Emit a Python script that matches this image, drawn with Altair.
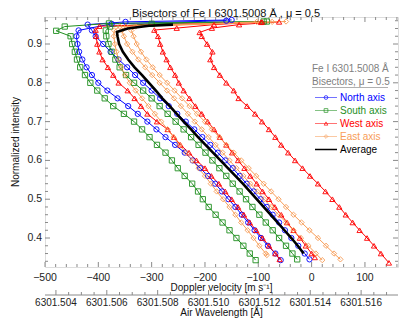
import altair as alt
import pandas as pd

FONT = "Liberation Sans"
GRAY = "#8a8a8a"
TXT = "#222222"

SERIES = ["North axis", "South axis", "West axis", "East axis"]
COLORS = ["#0000ff", "#1f8f1f", "#ff0000", "#f89d57"]
SHAPES = ["circle", "square", "triangle-up", "diamond"]

TITLE = "Bisectors of Fe I 6301.5008 Å , μ = 0.5"
X_TITLE = "Doppler velocity [m s⁻¹]"
X2_TITLE = "Air Wavelength [Å]"
Y_TITLE = "Normalized intensity"

# intensity levels at which the bisector bodies were read
LEVELS = [0.36, 0.38, 0.40, 0.42, 0.44, 0.46, 0.48, 0.50, 0.52, 0.54, 0.56, 0.58,
          0.60, 0.62, 0.64, 0.66, 0.68, 0.70, 0.72, 0.74, 0.76, 0.78, 0.80, 0.82,
          0.84, 0.86, 0.88, 0.90, 0.92]

# ---- North axis ----
n1_bottom = (0.343, -58)
n1_body = [-68, -82, -95, -107, -119, -131, -143, -156, -168, -181, -194, -209, -223, -238,
           -256, -274, -291, -308, -326, -344, -364, -383, -400, -412, -422, -430, -436, -439, -441]
n1_top_i = [0.935, 0.952, 0.960]
n1_top_v = [-437, -375, -160]

n2_bottom = (0.345, -4)
n2_body = [-13, -25, -38, -50, -61, -73, -84, -96, -109, -122, -135, -148, -162, -176,
           -190, -205, -220, -236, -252, -268, -284, -300, -316, -331, -346, -362, -377, -391, -405]
n2_top_i = [0.935, 0.950, 0.957, 0.962]
n2_top_v = [-412, -420, -349, -150]

# ---- South axis ----
s1_bottom = (0.343, -105)
s1_body = [-116, -128, -141, -154, -167, -180, -193, -204, -213, -224, -238, -251, -262, -274,
           -290, -304, -318, -333, -352, -372, -388, -402, -415, -425, -434, -440, -444, -449, -452]
s1_top_i = [0.934, 0.945, 0.953, 0.958]
s1_top_v = [-479, -463, -380, -84]

s2_bottom = (0.345, -27)
s2_body = [-36, -48, -61, -73, -86, -98, -111, -123, -135, -148, -160, -173, -186, -199,
           -212, -226, -240, -255, -270, -285, -300, -316, -333, -348, -360, -368, -375, -381, -385]
s2_top_i = [0.935, 0.945, 0.952, 0.958]
s2_top_v = [-386, -378, -300, -90]

# ---- West axis ----
w1_bottom = (0.345, -60)
w1_body = [-68, -80, -92, -104, -116, -127, -138, -150, -162, -174, -188, -200, -216, -230,
           -246, -258, -270, -290, -308, -320, -332, -345, -362, -372, -382, -392, -398, -402, -404]
w1_top_i = [0.936, 0.946, 0.956]
w1_top_v = [-405, -398, -95]

w2_bottom = (0.350, 6)
w2_body = [0, -11, -22, -34, -46, -57, -69, -80, -92, -103, -115, -126, -138, -149,
           -160, -172, -183, -195, -206, -218, -229, -240, -249, -256, -265, -272, -279, -284, -288]
w2_top_i = [0.936, 0.941, 0.950, 0.957]
w2_top_v = [-295, -253, -183, -93]

w3_bottom = (0.336, 145)
w3_body = [130, 117, 104, 90, 77, 64, 52, 39, 26, 12, -3, -17, -31, -44,
           -57, -68, -80, -93, -106, -121, -137, -146, -160, -172, -183, -190, -186, -196, -206]
w3_top_i = [0.930, 0.941, 0.950, 0.957]
w3_top_v = [-210, -187, -136, -61]

# ---- East axis ----
e1_bottom = (0.356, -84)
e1_body = [-86, -98, -109, -120, -132, -143, -154, -166, -178, -189, -200, -212, -224, -236,
           -248, -259, -270, -282, -294, -306, -318, -330, -341, -350, -357, -362, -366, -369, -371]
e1_top_i = [0.935, 0.945, 0.957]
e1_top_v = [-370, -360, -74]

e2_bottom = (0.343, 20)
e2_body = [8, -6, -20, -34, -48, -62, -76, -89, -102, -115, -128, -141, -154, -167,
           -180, -193, -206, -219, -232, -245, -258, -271, -285, -299, -312, -325, -336, -346, -352]
e2_top_i = [0.935, 0.945, 0.957]
e2_top_v = [-356, -348, -103]

e3_bottom = (0.345, 54)
e3_body = [42, 27, 12, -4, -19, -34, -48, -62, -76, -90, -104, -118, -132, -146,
           -160, -173, -187, -200, -215, -229, -243, -257, -271, -285, -298, -310, -320, -328, -334]
e3_top_i = [0.935, 0.945, 0.958]
e3_top_v = [-338, -330, -48]

# ---- Average ----
avg_body = [-15, -26, -38, -51, -64, -77, -90, -103, -116, -129, -143, -157, -171, -185,
            -199, -213, -226, -240, -253, -266, -280, -292, -305, -318, -332, -344, -354, -361, -364]
avg_top_i = [0.931, 0.940, 0.947, 0.950]
avg_top_v = [-365, -345, -305, -260]

# ---- axes ----
V_TICKS = [-500, -400, -300, -200, -100, 0, 100]
V_LABELS = ["−500", "−400", "−300", "−200", "−100", "0", "100"]
I_TICKS = [0.4, 0.5, 0.6, 0.7, 0.8, 0.9]
I_LABELS = ["0.4", "0.5", "0.6", "0.7", "0.8", "0.9"]
WL_TICKS = [6301.504, 6301.506, 6301.508, 6301.510, 6301.512, 6301.514, 6301.516]
WL_LABELS = ["6301.504", "6301.506", "6301.508", "6301.510", "6301.512", "6301.514", "6301.516"]

V_DOMAIN = [-500, 162]
I_DOMAIN = [0.3253, 0.9696]
WL_DOMAIN = [6301.50357, 6301.51745]   # wavelength at the left / right edge of the plot

W, H = 353, 250
OFF = 28   # offset of the wavelength axis below the plot

# ---------------- build tables ----------------
lines = [
    ("N1", "North axis", n1_bottom, n1_body, n1_top_i, n1_top_v),
    ("N2", "North axis", n2_bottom, n2_body, n2_top_i, n2_top_v),
    ("S1", "South axis", s1_bottom, s1_body, s1_top_i, s1_top_v),
    ("S2", "South axis", s2_bottom, s2_body, s2_top_i, s2_top_v),
    ("W1", "West axis", w1_bottom, w1_body, w1_top_i, w1_top_v),
    ("W2", "West axis", w2_bottom, w2_body, w2_top_i, w2_top_v),
    ("W3", "West axis", w3_bottom, w3_body, w3_top_i, w3_top_v),
    ("E1", "East axis", e1_bottom, e1_body, e1_top_i, e1_top_v),
    ("E2", "East axis", e2_bottom, e2_body, e2_top_i, e2_top_v),
    ("E3", "East axis", e3_bottom, e3_body, e3_top_i, e3_top_v),
]
rows = []
for name, ser, bottom, body, ti, tv in lines:
    pts = [bottom] + list(zip(LEVELS, body)) + list(zip(ti, tv))
    for k, (i, v) in enumerate(pts):
        rows.append({"line": name, "series": ser, "I": i, "v": v, "k": k})
df = pd.DataFrame(rows)

avg_pts = list(zip(LEVELS, avg_body)) + list(zip(avg_top_i, avg_top_v))
df_avg = pd.DataFrame([{"I": i, "v": v, "k": k} for k, (i, v) in enumerate(avg_pts)])

XS = alt.Scale(domain=V_DOMAIN, nice=False, zero=False)
YS = alt.Scale(domain=I_DOMAIN, nice=False, zero=False)
CS = alt.Scale(domain=SERIES, range=COLORS)
SS = alt.Scale(domain=SERIES, range=SHAPES)


def X(field):
    return alt.X(field, scale=XS, axis=None)


def Y(field):
    return alt.Y(field, scale=YS, axis=None)


lines_layer = alt.Chart(df).mark_line(strokeWidth=1).encode(
    x=X("v:Q"), y=Y("I:Q"),
    color=alt.Color("series:N", scale=CS, legend=None),
    detail="line:N", order="k:Q")
points_layer = alt.Chart(df).mark_point(filled=False, size=28, strokeWidth=1, opacity=0.9).encode(
    x=X("v:Q"), y=Y("I:Q"),
    color=alt.Color("series:N", scale=CS, legend=None),
    shape=alt.Shape("series:N", scale=SS, legend=None))
avg_layer = alt.Chart(df_avg).mark_line(color="black", strokeWidth=2.6).encode(
    x=X("v:Q"), y=Y("I:Q"), order="k:Q")

# ---- inward ticks on all four sides ----
v_minor = [t for t in range(-500, 161, 20) if t not in V_TICKS]
i_minor = [round(0.34 + 0.02 * k, 2) for k in range(32)]
i_minor = [t for t in i_minor
           if abs(t * 10 - round(t * 10)) > 1e-6 and I_DOMAIN[0] < t < I_DOMAIN[1]]
df_vmaj = pd.DataFrame({"t": V_TICKS, "lab": V_LABELS})
df_vmin = pd.DataFrame({"t": v_minor})
df_imaj = pd.DataFrame({"t": I_TICKS, "lab": I_LABELS})
df_imin = pd.DataFrame({"t": i_minor})


def xticks(d, ln):
    b = alt.Chart(d).mark_rule(color=GRAY, strokeWidth=1).encode(
        x=X("t:Q"), y=alt.value(H), y2=alt.value(H - ln))
    t = alt.Chart(d).mark_rule(color=GRAY, strokeWidth=1).encode(
        x=X("t:Q"), y=alt.value(0), y2=alt.value(ln))
    return [b, t]


def yticks(d, ln):
    l = alt.Chart(d).mark_rule(color=GRAY, strokeWidth=1).encode(
        y=Y("t:Q"), x=alt.value(0), x2=alt.value(ln))
    r = alt.Chart(d).mark_rule(color=GRAY, strokeWidth=1).encode(
        y=Y("t:Q"), x=alt.value(W), x2=alt.value(W - ln))
    return [l, r]


tick_layers = xticks(df_vmaj, 5) + xticks(df_vmin, 3) + yticks(df_imaj, 5) + yticks(df_imin, 3)

x_labels = alt.Chart(df_vmaj).mark_text(font=FONT, fontSize=10.5, color=TXT,
                                        align="center", baseline="top").encode(
    x=X("t:Q"), y=alt.value(H + 5.5), text="lab:N")
y_labels = alt.Chart(df_imaj).mark_text(font=FONT, fontSize=10.5, color=TXT,
                                        align="right", baseline="middle").encode(
    y=Y("t:Q"), x=alt.value(-3), text="lab:N")

# ---- second (wavelength) axis, placed with the velocity scale ----
def wl_to_v(w):
    return V_DOMAIN[0] + (w - WL_DOMAIN[0]) / (WL_DOMAIN[1] - WL_DOMAIN[0]) * (V_DOMAIN[1] - V_DOMAIN[0])


wl_minor = [round(6301.5035 + 0.0005 * k, 4) for k in range(29)]
wl_minor = [t for t in wl_minor
            if WL_DOMAIN[0] < t < WL_DOMAIN[1] and all(abs(t - m) > 1e-6 for m in WL_TICKS)]
df_wmaj = pd.DataFrame({"t": [wl_to_v(w) for w in WL_TICKS], "lab": WL_LABELS})
df_wmin = pd.DataFrame({"t": [wl_to_v(w) for w in wl_minor]})

wl_line = alt.Chart(pd.DataFrame({"a": [0]})).mark_rule(color=GRAY, strokeWidth=1).encode(
    x=alt.value(0), x2=alt.value(W), y=alt.value(H + OFF))
wl_maj = alt.Chart(df_wmaj).mark_rule(color=GRAY, strokeWidth=1).encode(
    x=X("t:Q"), y=alt.value(H + OFF), y2=alt.value(H + OFF - 5))
wl_min = alt.Chart(df_wmin).mark_rule(color=GRAY, strokeWidth=1).encode(
    x=X("t:Q"), y=alt.value(H + OFF), y2=alt.value(H + OFF - 3))
wl_labels = alt.Chart(df_wmaj).mark_text(font=FONT, fontSize=10, color=TXT,
                                         align="center", baseline="top").encode(
    x=X("t:Q"), y=alt.value(H + OFF + 2.5), text="lab:N")

# ---- titles and legend (decorations) ----
one = pd.DataFrame({"a": [0]})


def label(text, x, y, size=10, color="#111111", align="center", baseline="middle", angle=0):
    return alt.Chart(one).mark_text(text=text, font=FONT, fontSize=size, color=color,
                                    align=align, baseline=baseline, angle=angle).encode(
        x=alt.value(x), y=alt.value(y))


deco = [
    label(TITLE, 181, -9, size=11, baseline="top"),
    label(X_TITLE, W / 2, H + 20.5),
    label(X2_TITLE, W / 2, H + 49, baseline="alphabetic"),
    label(Y_TITLE, -29, H / 2, angle=270),
]
LX = 267
deco.append(label("Fe I 6301.5008 Å", LX, 52, color="#808080", align="left"))
deco.append(label("Bisectors, μ = 0.5", LX, 65, color="#808080", align="left"))
deco.append(alt.Chart(one).mark_rule(color="#b0b0b0", strokeWidth=1).encode(
    x=alt.value(LX), x2=alt.value(343), y=alt.value(70.5)))
LEG_LABELS = SERIES + ["Average"]
LEG_COLORS = COLORS + ["#000000"]
LEG_SHAPES = SHAPES + [None]
for j, (lab, col, shp) in enumerate(zip(LEG_LABELS, LEG_COLORS, LEG_SHAPES)):
    yy = 80.5 + 13 * j
    if shp is None:
        deco.append(alt.Chart(one).mark_rule(color=col, strokeWidth=1.5).encode(
            x=alt.value(270), x2=alt.value(292), y=alt.value(yy)))
    else:
        deco.append(alt.Chart(one).mark_rule(color=col, strokeWidth=1, opacity=0.55).encode(
            x=alt.value(270), x2=alt.value(292), y=alt.value(yy)))
        deco.append(alt.Chart(one).mark_point(shape=shp, filled=False, size=14, color=col,
                                              strokeWidth=1, opacity=0.7).encode(
            x=alt.value(281), y=alt.value(yy)))
    deco.append(label(lab, 295, yy, color=col, align="left"))

chart = alt.layer(
    *tick_layers, lines_layer, points_layer, avg_layer,
    x_labels, y_labels, wl_line, wl_maj, wl_min, wl_labels, *deco
).properties(
    width=W, height=H,
    autosize=alt.AutoSizeParams(type="none"),
    padding={"left": 37, "top": 9, "right": 9, "bottom": 51},
).configure_view(stroke=GRAY, strokeWidth=1).configure(background="white")

chart.save("out.html", embed_options={"renderer": "svg", "actions": False})
